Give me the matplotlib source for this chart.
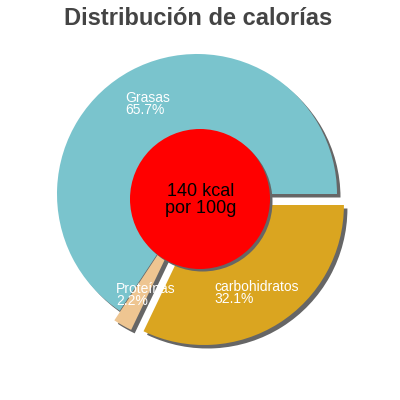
import matplotlib
matplotlib.use("Agg")
import matplotlib.pyplot as plt
from matplotlib.patches import Circle

# data
categories = ["Grasas", "Proteínas", "carbohidratos"]
percentages = [65.7, 2.2, 32.1]
pct_labels = ["65.7%", "2.2%", "32.1%"]
center_text = "140 kcal\npor 100g"
title = "Distribución de calorías"

colors = ["#7AC4CD", "#EEC591", "#DAA520"]
explode = [0.0, 11.0, 13.0]
shadow_col = "#666666"

plt.rcParams["font.family"] = ["Liberation Sans", "DejaVu Sans"]

fig = plt.figure(figsize=(4, 4), dpi=100)
ax = fig.add_axes([0, 0, 1, 1])

cx, cy, R = 197, 400 - 194, 140
sd = 3.5

# shadow
ax.pie(percentages, colors=[shadow_col] * 3, explode=explode, startangle=0,
       counterclock=True, center=(cx + sd, cy - sd), radius=R,
       wedgeprops=dict(linewidth=0), frame=True)
# pie
ax.pie(percentages, colors=colors, explode=explode, startangle=0,
       counterclock=True, center=(cx, cy), radius=R,
       wedgeprops=dict(linewidth=0), frame=True)
ax.set_xlim(0, 400)
ax.set_ylim(0, 400)
ax.set_aspect("equal")
ax.axis("off")

# center circle
ccx, ccy, cr = 200, 400 - 199, 70
ax.add_patch(Circle((ccx + 2.5, ccy - 2.5), cr, color=shadow_col, lw=0, zorder=5))
ax.add_patch(Circle((ccx, ccy), cr, color="#FF0000", lw=0, zorder=6))
ax.text(201, 400 - 200, center_text, ha="center", va="center",
        fontsize=13, color="black", zorder=7, linespacing=0.95)

# labels
label_pos = {"Grasas": (125, 91), "Proteínas": (116, 282), "carbohidratos": (214, 280)}
for name, pl in zip(categories, pct_labels):
    x, y = label_pos[name]
    ax.text(x, 400 - y, name + "\n" + pl, ha="left", va="top", fontsize=10,
            color="white", zorder=8, linespacing=0.8)

fig.text(198 / 400, 1 - 25 / 400, title, ha="center", va="baseline",
         fontsize=17, fontweight="bold", color="#444444")

fig.savefig("out.png", dpi=100)
